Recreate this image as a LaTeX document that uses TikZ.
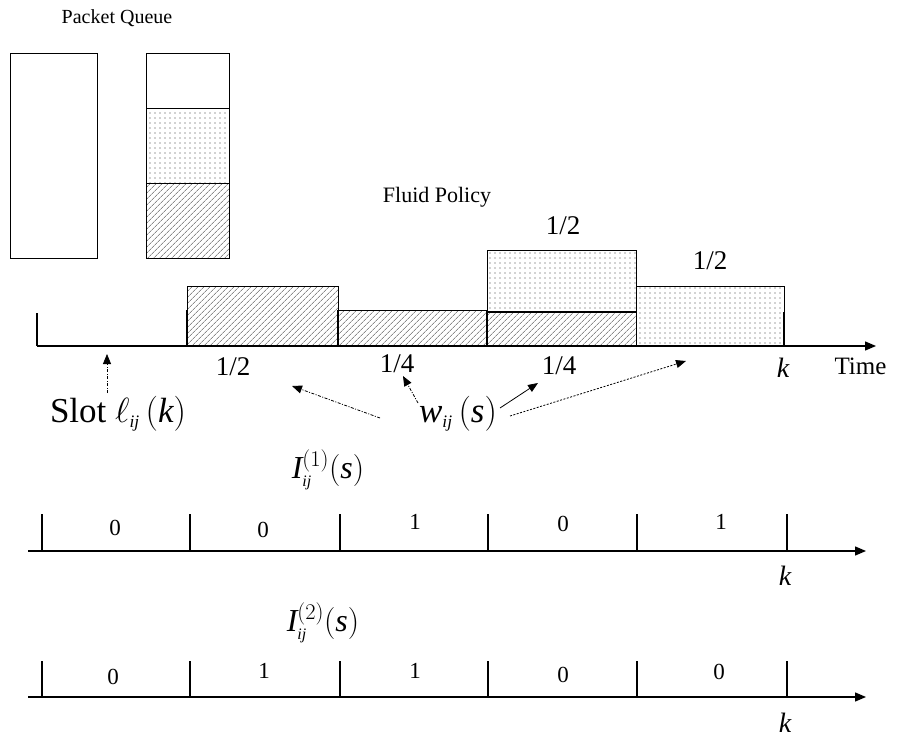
\RequirePackage{fix-cm}
\documentclass[tikz,border=0pt]{standalone}
\usepackage{fontspec}
\setmainfont{Liberation Serif}
\usetikzlibrary{patterns.meta,arrows.meta}
\newcommand{\tinysub}[1]{_{\scriptscriptstyle\mathit{#1}}}
\begin{document}
\begin{tikzpicture}[x=1pt,y=-1pt,
  hatch/.style={pattern={Lines[angle=45,distance=4pt,line width=0.6pt]},pattern color=black!70},
  dotfill/.style={pattern={Dots[distance=5pt,radius=0.6pt]},pattern color=black!75},
  qbox/.style={draw,line width=1pt},
  thk/.style={line width=2.4pt},
  axis/.style={line width=1.4pt,-{Triangle[length=11pt,width=9pt]}},
  ptr/.style={line width=0.8pt,dash pattern=on 3pt off 1.5pt on 1pt off 1.5pt,-{Triangle[length=10pt,width=8pt]}},
  small/.style={font=\fontsize{20}{22}\selectfont},
  mid/.style={font=\fontsize{27}{29}\selectfont},
  big/.style={font=\fontsize{32}{36}\selectfont},
  bigger/.style={font=\fontsize{35}{38}\selectfont},
  val/.style={font=\fontsize{23}{25}\selectfont},
  kk/.style={font=\fontsize{28}{30}\selectfont}]
\useasboundingbox (0,0) rectangle (899,738);
% Packet queue
\node[small] (pq) at (117,18) {Packet Queue};
\draw[qbox] (10,54) rectangle (97,258);
\fill[white] (146,54) rectangle (229,258);
\path[dotfill] (146,109) rectangle (229,184);
\path[hatch] (146,184) rectangle (229,258);
\draw[qbox] (146,54) rectangle (229,258);
\draw[qbox] (146,109) -- (229,109);
\draw[qbox] (146,184) -- (229,184);
% Fluid policy
\node[font=\fontsize{22}{24}\selectfont] (fp) at (437,197) {Fluid Policy};
\path[hatch] (187,286) rectangle (338,346);
\draw[qbox] (187,286) rectangle (338,346);
\path[hatch] (338,310) rectangle (487,346);
\draw[qbox] (338,310) rectangle (487,346);
\path[dotfill] (487,250) rectangle (636,312);
\path[hatch] (487,312) rectangle (636,346);
\draw[qbox] (487,250) rectangle (636,346);
\draw[line width=2pt] (487,312) -- (636,312);
\path[dotfill] (636,286) rectangle (784,346);
\draw[qbox] (636,286) rectangle (784,346);
\coordinate (t0) at (37,346);
\coordinate (tend) at (876,346);
\draw[axis] (t0) -- (tend);
\draw[thk] (37,313) -- (37,346);
\draw[thk] (187,310) -- (187,346);
\draw[thk] (338,310) -- (338,346);
\draw[thk] (487,310) -- (487,346);
\draw[thk] (784,312) -- (784,346);
\node[font=\fontsize{25}{28}\selectfont,anchor=west] (time) at (831,366) {Time};
\node[mid] (f1) at (233,367) {1/2};
\node[mid] (f2) at (397,364) {1/4};
\node[mid] (f3) at (559,366) {1/4};
\node[mid] (f4) at (563,226) {1/2};
\node[mid] (f5) at (710,261) {1/2};
\node[kk] (k0) at (783,368) {$\mathit{k}$};
% Slot label
\node[bigger] (slot) at (118,414) {Slot $\ell\tinysub{ij}\,(\mathit{k})$};
\coordinate (slotA) at (107,393);
\coordinate (slotB) at (107,354);
\draw[ptr] (slotA) -- (slotB);
% w label
\node[bigger] (w) at (458,414) {$\mathit{w}\tinysub{ij}\,(\mathit{s})$};
\coordinate (wa1) at (380,418); \coordinate (wb1) at (292,386);
\coordinate (wa2) at (418,403); \coordinate (wb2) at (403,376);
\coordinate (wa3) at (500,408); \coordinate (wb3) at (538,383);
\coordinate (wa4) at (510,416); \coordinate (wb4) at (686,361);
\draw[ptr] (wa1) -- (wb1);
\draw[ptr] (wa2) -- (wb2);
\draw[line width=0.8pt,-{Triangle[length=10pt,width=8pt]}] (wa3) -- (wb3);
\draw[line width=0.8pt,dash pattern=on 2pt off 1.5pt,-{Triangle[length=10pt,width=8pt]}] (wa4) -- (wb4);
% Timeline 1
\node[big] (i1) at (328,470) {$\mathit{I}^{(1)}\tinysub{ij}(\mathit{s})$};
\coordinate (a0) at (28,551);
\coordinate (a1) at (866,551);
\draw[axis] (a0) -- (a1);
\foreach \x in {42,190,340,488,637,787} \draw[thk] (\x,514) -- (\x,551);
\node[val] (n11) at (115,528) {0};
\node[val] (n12) at (263,530) {0};
\node[val] (n13) at (415,522) {1};
\node[val] (n14) at (563,524) {0};
\node[val] (n15) at (721,522) {1};
\node[kk] (k1) at (785,576) {$\mathit{k}$};
% Timeline 2
\node[big] (i2) at (323,623) {$\mathit{I}^{(2)}\tinysub{ij}(\mathit{s})$};
\coordinate (b0) at (28,697);
\coordinate (b1) at (866,697);
\draw[axis] (b0) -- (b1);
\foreach \x in {42,190,340,488,637,787} \draw[thk] (\x,661) -- (\x,697);
\node[val] (n21) at (113,677) {0};
\node[val] (n22) at (264,671) {1};
\node[val] (n23) at (415,671) {1};
\node[val] (n24) at (563,675) {0};
\node[val] (n25) at (719,672) {0};
\node[kk] (k2) at (785,723) {$\mathit{k}$};
\end{tikzpicture}
\end{document}
